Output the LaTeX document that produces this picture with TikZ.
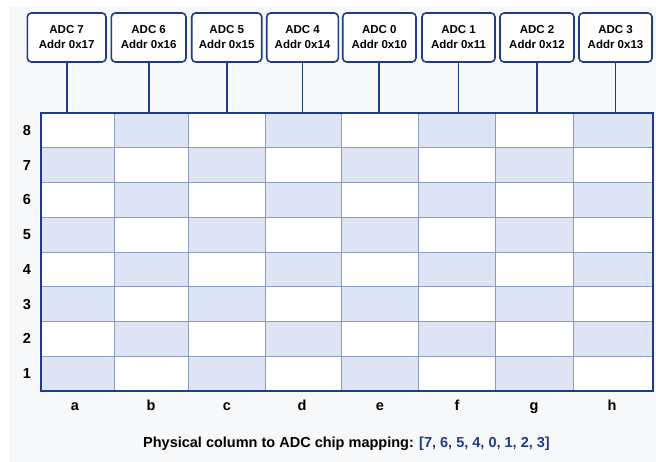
\documentclass[tikz,border=0pt]{standalone}
\usepackage{fontspec}
\setmainfont{Liberation Sans}
\definecolor{navy}{HTML}{1F3C88}
\definecolor{cellblue}{HTML}{DDE5F4}
\definecolor{gridline}{HTML}{8A9AC0}
\definecolor{bgcol}{HTML}{F7F8FA}
\begin{document}
\begin{tikzpicture}[x=1pt,y=-1pt,
  adcbox/.style={draw=navy, line width=1.6pt, rounded corners=4pt, fill=white,
    minimum height=49pt, align=center, inner sep=0pt,
    font=\bfseries\fontsize{11.5}{15}\selectfont},
  link/.style={draw=navy, line width=1.8pt},
  innerline/.style={draw=gridline, line width=0.7pt},
  axislabel/.style={font=\bfseries\fontsize{14.5}{16}\selectfont, inner sep=0pt},
  caption/.style={font=\bfseries\fontsize{14.5}{16}\selectfont, inner sep=0pt}]
\useasboundingbox (0,0) rectangle (656,462);
\fill[white] (0,0) rectangle (656,462);
\fill[bgcol] (9,7) rectangle (656,462);
\coordinate (gtop) at (0,113);
% grid cells
\foreach \xl/\xr [count=\c] in {41/114.3,114.3/188,188/265,265/341.7,341.7/418,418/495.7,495.7/573.3,573.3/652.7}{
  \foreach \r in {1,...,8}{
    \pgfmathparse{int(mod(\c+\r,2))}
    \ifnum\pgfmathresult=0
      \fill[cellblue] (\xl,{113+(8-\r)*34.75}) rectangle (\xr,{113+(9-\r)*34.75});
    \else
      \fill[white] (\xl,{113+(8-\r)*34.75}) rectangle (\xr,{113+(9-\r)*34.75});
    \fi
  }
}
\foreach \x in {114.3,188,265,341.7,418,495.7,573.3}{
  \draw[innerline] (\x,113) -- (\x,391);
}
\foreach \k in {1,...,7}{
  \draw[innerline] (41,{113+\k*34.75}) -- (652.7,{113+\k*34.75});
}
\draw[navy, line width=1.6pt] (41,113) rectangle (652.7,391);
% boxes
\foreach \l/\r/\n/\a in {27.3/106/7/17,111.3/186/6/16,191.7/261.7/5/15,266.7/338.3/4/14,342.7/416/0/10,422/495/1/11,500/574/2/12,579/652/3/13}{
  \node[adcbox, minimum width={\r-\l}] (b\n) at ({(\l+\r)/2},37.5) {ADC \n\\Addr 0x\a};
  \draw[link] (b\n.south) -- (b\n.south |- gtop);
}
% row labels
\foreach \r in {1,...,8}{
  \node[axislabel] (row\r) at (27,{113+(8.5-\r)*34.75}) {\r};
}
% column labels
\foreach \x/\t in {75/a,151/b,227/c,302/d,380/e,457/f,534/g,612/h}{
  \node[axislabel, anchor=base] (col\t) at (\x,410) {\t};
}
\node[caption, anchor=base] (cap) at (346.5,447) {Physical column to ADC chip mapping: \textcolor{navy}{[7, 6, 5, 4, 0, 1, 2, 3]}};
\end{tikzpicture}
\end{document}
